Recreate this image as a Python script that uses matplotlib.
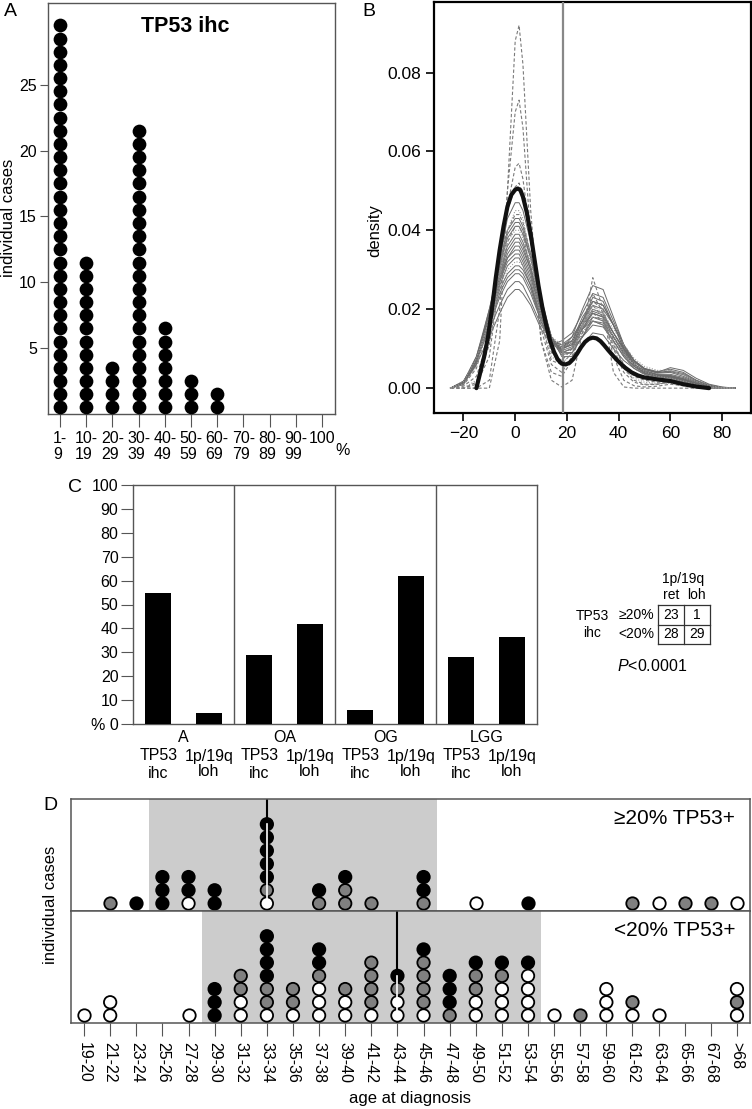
import matplotlib
matplotlib.use("Agg")
import matplotlib.pyplot as plt
from matplotlib.lines import Line2D
from matplotlib import transforms

plt.rcParams['font.family'] = ['Liberation Sans', 'DejaVu Sans']
plt.rcParams['mathtext.fontset'] = 'custom'
plt.rcParams['mathtext.it'] = 'Liberation Sans:italic'
plt.rcParams['mathtext.rm'] = 'Liberation Sans'

# ---------------- data ----------------
# A: cases per TP53 ihc bin
a_bins = ['1-\n9', '10-\n19', '20-\n29', '30-\n39', '40-\n49', '50-\n59',
          '60-\n69', '70-\n79', '80-\n89', '90-\n99', '100']
a_counts = [30, 12, 4, 22, 7, 3, 2, 0, 0, 0, 0]

# B: density curves
xg = [-25, -20, -15, -10, -6, -3, 0, 1.5, 3, 6, 10, 14, 18, 22, 26, 30, 34,
      38, 42, 46, 50, 55, 60, 65, 70, 75, 80, 85]
solid_curves = [
    [0, .001, .006, .019, .033, .043, .047, .047, .045, .037, .023, .013, .009, .009, .013, .017, .016, .012, .008, .005, .0035, .0025, .0022, .0016, .0008, .0003, 0, 0],
    [0, .0012, .007, .020, .032, .040, .043, .043, .041, .034, .022, .013, .009, .010, .015, .019, .018, .013, .009, .006, .004, .003, .0028, .002, .001, .0004, .0001, 0],
    [0, .0015, .008, .020, .030, .036, .039, .039, .037, .031, .020, .013, .010, .011, .016, .020, .019, .014, .010, .006, .0042, .0032, .003, .0022, .0011, .0004, .0001, 0],
    [0, .0015, .008, .019, .028, .033, .036, .036, .034, .029, .019, .012, .010, .011, .015, .018, .017, .013, .009, .006, .0045, .0035, .0035, .0027, .0014, .0005, .0001, 0],
    [0, .0012, .007, .017, .026, .031, .033, .033, .031, .026, .017, .011, .010, .013, .020, .026, .025, .018, .011, .006, .004, .003, .0028, .002, .001, .0003, 0, 0],
    [0, .0016, .007, .016, .024, .028, .030, .030, .029, .025, .017, .012, .011, .012, .016, .019, .018, .014, .010, .007, .005, .0042, .0048, .004, .002, .0007, .0002, 0],
    [0, .0018, .007, .015, .021, .025, .027, .027, .026, .022, .016, .012, .011, .013, .017, .021, .020, .016, .011, .007, .005, .004, .0052, .0045, .0025, .001, .0003, 0],
    [0, .0015, .006, .013, .019, .023, .025, .025, .024, .021, .015, .011, .012, .014, .019, .024, .023, .017, .011, .007, .0048, .0038, .004, .003, .0016, .0006, .0001, 0],
    [0, .001, .006, .019, .031, .038, .041, .041, .039, .033, .022, .013, .008, .008, .011, .014, .0135, .010, .007, .005, .0037, .003, .0026, .0018, .0009, .0003, 0, 0],
    [0, .0013, .007, .019, .029, .035, .038, .038, .036, .030, .020, .012, .009, .010, .013, .016, .0155, .012, .008, .0055, .004, .0032, .0032, .0024, .0012, .0004, .0001, 0],
    [0, .0014, .007, .018, .027, .032, .034, .034, .032, .027, .018, .012, .010, .012, .018, .022, .021, .016, .010, .006, .0042, .0033, .003, .0022, .0011, .0004, .0001, 0],
    [0, .0016, .007, .017, .025, .029, .031, .031, .030, .026, .018, .012, .011, .012, .015, .017, .0165, .013, .009, .0065, .0048, .004, .0042, .0034, .0018, .0006, .0001, 0],
    [0, .0011, .0065, .019, .031, .039, .042, .042, .040, .033, .021, .012, .0085, .009, .013, .018, .0175, .013, .0085, .0055, .0038, .0028, .0025, .0018, .0009, .0003, 0, 0],
    [0, .0014, .0075, .019, .028, .034, .037, .037, .035, .030, .020, .0125, .0095, .0105, .015, .0195, .0185, .014, .0095, .006, .0043, .0034, .0032, .0024, .0012, .0004, .0001, 0],
    [0, .0017, .0075, .016, .023, .027, .029, .029, .028, .024, .017, .0115, .0105, .012, .017, .022, .021, .016, .0105, .0068, .0048, .0039, .0044, .0037, .002, .0008, .0002, 0],
    [0, .0013, .0068, .018, .027, .033, .035, .035, .033, .028, .019, .012, .0098, .0115, .017, .023, .022, .016, .010, .006, .0042, .0032, .0029, .0021, .001, .0003, 0, 0],
]
dashed_curves = [
    [0, 0, 0, 0, .012, .050, .088, .092, .082, .045, .012, .002, .0003, .002, .014, .028, .020, .004, .0003, 0, 0, 0, 0, 0, 0, 0, 0, 0],
    [0, 0, 0, .002, .020, .050, .070, .073, .066, .038, .012, .004, .003, .007, .016, .024, .019, .008, .002, .0006, .0003, .0005, .001, .0006, .0002, 0, 0, 0],
    [0, 0, .001, .008, .028, .046, .056, .057, .053, .038, .017, .007, .006, .009, .016, .021, .018, .010, .004, .0015, .0008, .001, .0015, .001, .0004, 0, 0, 0],
    [0, .0005, .003, .013, .032, .045, .051, .052, .049, .037, .019, .009, .007, .010, .015, .019, .017, .011, .006, .003, .002, .0015, .0015, .001, .0004, .0001, 0, 0],
    [0, .0008, .005, .017, .031, .040, .044, .044, .042, .034, .021, .012, .009, .010, .014, .017, .016, .012, .008, .005, .0035, .0025, .002, .0014, .0007, .0002, 0, 0],
    [0, 0, .0015, .011, .027, .037, .041, .041, .039, .030, .015, .006, .004, .008, .016, .022, .020, .012, .005, .002, .001, .001, .0015, .001, .0004, 0, 0, 0],
]
dotted_curves = [
    [0, .001, .0055, .018, .030, .037, .040, .040, .038, .032, .021, .013, .010, .010, .014, .018, .0175, .013, .009, .006, .0042, .003, .0025, .0018, .0009, .0003, 0, 0],
    [0, .0017, .0075, .017, .025, .030, .032, .032, .031, .027, .019, .013, .011, .012, .016, .020, .019, .015, .011, .0075, .0055, .0045, .0045, .0035, .0018, .0007, .0002, 0],
    [0, 0, .002, .012, .028, .040, .045, .045, .043, .033, .017, .008, .006, .009, .016, .021, .019, .011, .005, .0025, .0015, .0012, .0012, .0008, .0003, 0, 0, 0],
]
black_x = [-15, -13.5, -12, -10.5, -9, -7.5, -6, -4.5, -3, -1.5, 0, 1, 2, 3,
           4.5, 6, 7.5, 9, 10.5, 12, 13.5, 15, 16.5, 18, 19.5, 21, 22.5, 24,
           25.5, 27, 28.5, 30, 31.5, 33, 34.5, 36, 38, 40, 42.5, 45, 47.5, 50,
           55, 60, 65, 70, 75]
black_y = [0.0, .004, .008, .013, .020, .028, .035, .041, .046, .049, .0503,
           .0506, .0502, .0485, .0445, .039, .0325, .026, .0205, .016, .012,
           .0092, .0072, .0062, .006, .0064, .0074, .0088, .0104, .0117, .0125,
           .0128, .0126, .0119, .0108, .0096, .0081, .0067, .0052, .0040, .0032,
           .0027, .0022, .0018, .0010, .0004, 0.0]
cutoff = 18.3

# C: percentages per tumour type
c_groups = ['A', 'OA', 'OG', 'LGG']
c_tp53 = [55, 29, 6, 28]
c_loh = [4.5, 42, 62, 36.5]
c_yticklabels = ['% 0', '10', '20', '30', '40', '50', '60', '70', '80', '90', '100']
tbl_cols = ['ret', 'loh']
tbl_rows = ['\u226520%', '<20%']
tbl_vals = [[23, 1], [28, 29]]
p_text = '$\\mathit{P}$<0.0001'

# D: stacked cases per age bin (k = black, g = grey, w = white; bottom to top)
ages = ['19-20', '21-22', '23-24', '25-26', '27-28', '29-30', '31-32', '33-34',
        '35-36', '37-38', '39-40', '41-42', '43-44', '45-46', '47-48', '49-50',
        '51-52', '53-54', '55-56', '57-58', '59-60', '61-62', '63-64', '65-66',
        '67-68', '>68']
upper_stacks = ['', 'g', 'k', 'kkk', 'wkk', 'kk', '', 'wgkkkkk', '', 'gk', 'ggk',
                'g', '', 'gkk', '', 'w', '', 'k', '', '', '', 'g', 'w', 'g', 'g', 'w']
lower_stacks = ['w', 'ww', '', '', 'w', 'kkk', 'wwgg', 'wggkkkk', 'wgg', 'wwwgkk',
                'wwg', 'wgggg', 'wwgk', 'wggggk', 'gkkk', 'wwggk', 'wwwgk', 'wwwwk',
                'w', 'g', 'www', 'wg', 'w', '', '', 'wgw']
upper_iqr = (2.5, 13.5)
lower_iqr = (4.5, 17.5)
upper_median = 7
lower_median = 12
dot_colors = {'k': 'black', 'g': '#808080', 'w': 'white'}

# ---------------- figure ----------------
W, H = 752, 1109
fig = plt.figure(figsize=(W / 100, H / 100), dpi=100)


def box(l, t, r, b):
    return [l / W, 1 - b / H, (r - l) / W, (b - t) / H]


def ftext(x, y, s, **kw):
    kw.setdefault('ha', 'center')
    kw.setdefault('va', 'center')
    fig.text(x / W, 1 - y / H, s, **kw)


def fline(xs, ys, **kw):
    fig.add_artist(Line2D([x / W for x in xs], [1 - y / H for y in ys], **kw))


frame_c = '#555555'

# ----- A -----
axA = fig.add_axes(box(48, 3, 335, 414))
for i, n in enumerate(a_counts):
    if n:
        axA.scatter([i + 1] * n, [k + 0.5 for k in range(n)], s=98, c='black',
                    linewidths=0, zorder=3, clip_on=False)
axA.set_xlim(0.54, 11.5)
axA.set_ylim(0, 31.2)
axA.set_yticks([5, 10, 15, 20, 25])
axA.set_xticks(range(1, 12))
axA.set_xticklabels(a_bins, multialignment='left', linespacing=1.05)
axA.tick_params(axis='x', length=9.5, pad=3, labelsize=11.5, color=frame_c)
axA.tick_params(axis='y', length=6, pad=2, labelsize=11.5, color=frame_c)
for sp in axA.spines.values():
    sp.set_color(frame_c)
    sp.set_linewidth(1.0)
ftext(185, 27, 'TP53 ihc', fontsize=15.5, fontweight='bold')
ftext(9, 218, 'individual cases', fontsize=12, rotation=90)
ftext(343, 451, '%', fontsize=11.5)
ftext(10, 12, 'A', fontsize=14)

# ----- B -----
axB = fig.add_axes(box(434, 1.5, 750.5, 413))
for cy in solid_curves:
    axB.plot(xg, cy, color='#6a6a6a', lw=0.7, zorder=2)
for cy in dashed_curves:
    axB.plot(xg, cy, color='#7a7a7a', lw=0.8, ls=(0, (3, 2)), zorder=2)
for cy in dotted_curves:
    axB.plot(xg, cy, color='#999999', lw=0.8, ls=(0, (1, 1.5)), zorder=2)
axB.plot(black_x, black_y, color='#111111', lw=3, zorder=4,
         solid_capstyle='round', solid_joinstyle='round')
axB.axvline(cutoff, color='#888888', lw=1.6, zorder=3)
axB.set_xlim(-31.4, 91)
axB.set_ylim(-0.0063, 0.098)
axB.set_yticks([0, 0.02, 0.04, 0.06, 0.08])
axB.set_yticklabels(['0.00', '0.02', '0.04', '0.06', '0.08'])
axB.set_xticks([-20, 0, 20, 40, 60, 80])
axB.tick_params(length=6, width=1.2, labelsize=12.5, pad=3)
for sp in axB.spines.values():
    sp.set_linewidth(1.6)
ftext(375, 231, 'density', fontsize=12, rotation=90)
ftext(369, 11, 'B', fontsize=14)

# ----- C -----
axC = fig.add_axes(box(133, 485, 537, 724))
for i in range(len(c_groups)):
    axC.bar(4 * i + 1, c_tp53[i], width=1.03, color='black', zorder=3)
    axC.bar(4 * i + 3, c_loh[i], width=1.03, color='black', zorder=3)
for xv in [4, 8, 12]:
    axC.axvline(xv, color=frame_c, lw=1.0)
axC.set_xlim(0, 16)
axC.set_ylim(0, 100)
axC.set_yticks(range(0, 101, 10))
axC.set_yticklabels(c_yticklabels)
axC.set_xticks([])
axC.tick_params(axis='y', length=8.5, pad=2, labelsize=11.5, color=frame_c)
for sp in axC.spines.values():
    sp.set_color(frame_c)
    sp.set_linewidth(1.0)
trC = transforms.blended_transform_factory(axC.transData, fig.transFigure)
for i, g in enumerate(c_groups):
    axC.text(4 * i + 2, 1 - 738 / H, g, transform=trC, ha='center', va='center', fontsize=11.5)
    axC.text(4 * i + 1, 1 - 756 / H, 'TP53', transform=trC, ha='center', va='center', fontsize=11.5)
    axC.text(4 * i + 1, 1 - 774 / H, 'ihc', transform=trC, ha='center', va='center', fontsize=11.5)
    axC.text(4 * i + 3, 1 - 756 / H, '1p/19q', transform=trC, ha='center', va='center', fontsize=11.5)
    axC.text(4 * i + 3, 1 - 772 / H, 'loh', transform=trC, ha='center', va='center', fontsize=11.5)
ftext(75, 488, 'C', fontsize=14)

# contingency table
cx = [658, 683.5, 710]
cy = [605, 625, 644]
for yv in cy:
    fline([cx[0], cx[2]], [yv, yv], color='#333333', lw=0.9)
for xv in cx:
    fline([xv, xv], [cy[0], cy[2]], color='#333333', lw=0.9)
ftext(683, 579, '1p/19q', fontsize=10)
for j, c in enumerate(tbl_cols):
    ftext((cx[j] + cx[j + 1]) / 2, 595, c, fontsize=10)
ftext(592, 616, 'TP53', fontsize=10)
ftext(592, 633, 'ihc', fontsize=10)
for r, lab in enumerate(tbl_rows):
    ymid = (cy[r] + cy[r + 1]) / 2
    ftext(636, ymid, lab, fontsize=10)
    for j in range(2):
        ftext((cx[j] + cx[j + 1]) / 2, ymid, str(tbl_vals[r][j]), fontsize=10)
ftext(652, 666, p_text, fontsize=11.5)

# ----- D -----
axU = fig.add_axes(box(71, 799, 750, 911))
axL = fig.add_axes(box(71, 911, 750, 1023))
for ax, stacks, iqr, med in [(axU, upper_stacks, upper_iqr, upper_median),
                             (axL, lower_stacks, lower_iqr, lower_median)]:
    ax.set_xlim(-0.5, len(ages) - 0.5)
    ax.set_ylim(0, 8.48)
    ax.axvspan(iqr[0], iqr[1], color='#cccccc', lw=0, zorder=0)
    ax.axvline(med, color='black', lw=1.5, zorder=1)
    for i, st in enumerate(stacks):
        if not st:
            continue
        ys = [0.57 + k for k in range(len(st))]
        ax.scatter([i] * len(st), ys, s=80, c=[dot_colors[ch] for ch in st],
                   edgecolors='black', linewidths=1.3, zorder=3, clip_on=False)
    n = len(stacks[med])
    ax.plot([med, med], [0.57, 0.57 + n - 1], color='white', lw=1.2, zorder=4)
    for sp in ax.spines.values():
        sp.set_color(frame_c)
        sp.set_linewidth(1.1)
    ax.set_yticks([])
axU.set_xticks([])
axL.set_xticks(range(len(ages)))
axL.set_xticklabels(ages, rotation=270, va='top', ha='center')
axL.tick_params(axis='x', length=9.5, pad=4, labelsize=11.5, color=frame_c)
ftext(735, 818, '\u226520% TP53+', fontsize=15, ha='right')
ftext(735, 930, '<20% TP53+', fontsize=15, ha='right')
ftext(410, 1098, 'age at diagnosis', fontsize=12)
ftext(51, 905, 'individual cases', fontsize=12, rotation=90)
ftext(50, 806, 'D', fontsize=14)

fig.savefig('out.png', dpi=100)
